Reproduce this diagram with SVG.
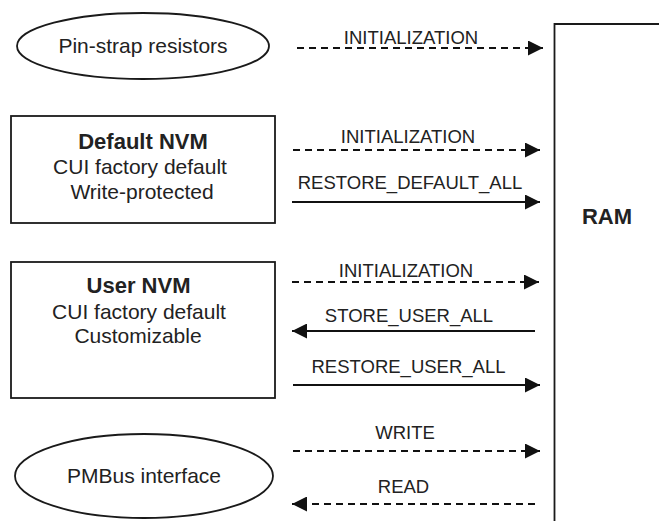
<svg xmlns="http://www.w3.org/2000/svg" width="659" height="522" viewBox="0 0 659 522">
<style>
.n{fill:none;stroke:#1a1a1a;stroke-width:1.8}
.t{font-family:"Liberation Sans",Arial,sans-serif;font-size:21px;fill:#222;text-anchor:middle}
.b{font-weight:bold;font-size:22px}
.l{font-family:"Liberation Sans",Arial,sans-serif;font-size:18.5px;fill:#222;text-anchor:middle}
.s{stroke:#111;stroke-width:2;fill:none}
.d{stroke:#111;stroke-width:2;fill:none;stroke-dasharray:7 5}
</style>
<defs>
<marker id="ah" viewBox="0 0 15 15" refX="15" refY="7.5" markerWidth="15" markerHeight="15" markerUnits="userSpaceOnUse" orient="auto"><path d="M0,0 L15,7.5 L0,15 z" fill="#111"/></marker>
</defs>
<g id="pinstrap">
<ellipse class="n" cx="143" cy="46" rx="126" ry="33"/>
<text class="t" x="143" y="53">Pin-strap resistors</text>
</g>
<g id="default-nvm">
<rect class="n" x="11" y="116" width="264" height="107"/>
<text class="t b" x="143" y="149">Default NVM</text>
<text class="t" x="140" y="174">CUI factory default</text>
<text class="t" x="142" y="199">Write-protected</text>
</g>
<g id="user-nvm">
<rect class="n" x="11" y="262" width="264" height="136"/>
<text class="t b" x="138.5" y="293">User NVM</text>
<text class="t" x="139" y="319">CUI factory default</text>
<text class="t" x="138" y="343">Customizable</text>
</g>
<g id="pmbus">
<ellipse class="n" cx="144" cy="476" rx="129" ry="42"/>
<text class="t" x="144" y="483">PMBus interface</text>
</g>
<g id="ram">
<path class="n" d="M659,24 H554.5 V521"/>
<text class="t b" x="607" y="224">RAM</text>
</g>
<g id="connectors">
<line class="d" x1="297" y1="48" x2="543" y2="48" marker-end="url(#ah)"/>
<text class="l" x="411" y="44">INITIALIZATION</text>
<line class="d" x1="293" y1="150" x2="540" y2="150" marker-end="url(#ah)"/>
<text class="l" x="408" y="143">INITIALIZATION</text>
<line class="s" x1="292" y1="202" x2="540" y2="202" marker-end="url(#ah)"/>
<text class="l" x="410" y="189">RESTORE_DEFAULT_ALL</text>
<line class="d" x1="292" y1="282" x2="539" y2="282" marker-end="url(#ah)"/>
<text class="l" x="406" y="277">INITIALIZATION</text>
<line class="s" x1="535" y1="331" x2="292" y2="331" marker-end="url(#ah)"/>
<text class="l" x="409" y="322">STORE_USER_ALL</text>
<line class="s" x1="293" y1="385" x2="540" y2="385" marker-end="url(#ah)"/>
<text class="l" x="408.5" y="373">RESTORE_USER_ALL</text>
<line class="d" x1="293" y1="451" x2="540" y2="451" marker-end="url(#ah)"/>
<text class="l" x="405" y="439">WRITE</text>
<line class="d" x1="535" y1="504" x2="292" y2="504" marker-end="url(#ah)"/>
<text class="l" x="403.5" y="493">READ</text>
</g>
</svg>
